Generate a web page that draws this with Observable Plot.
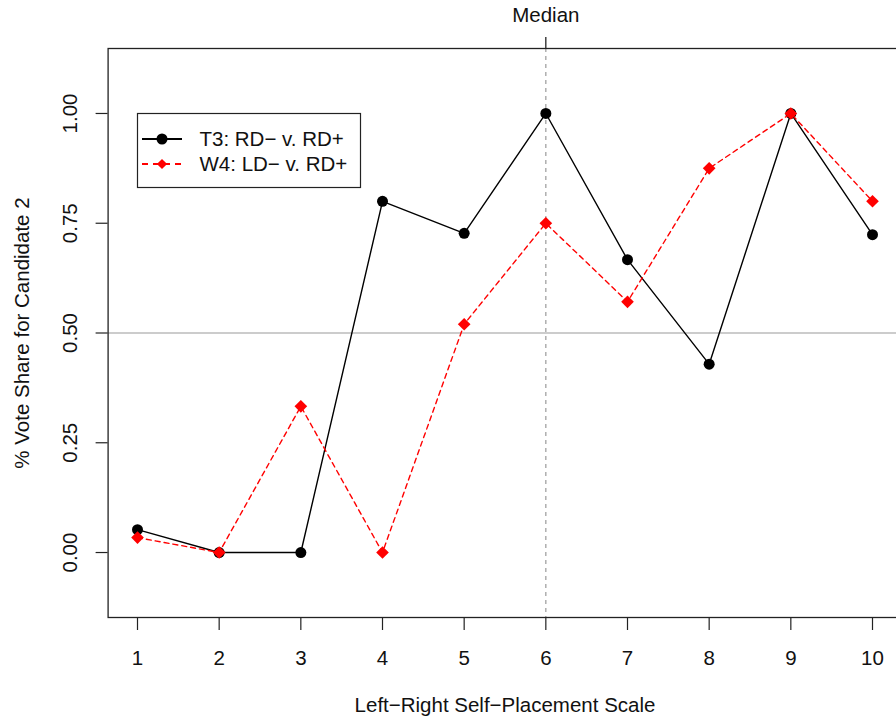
<!DOCTYPE html>
<html>
<head>
<meta charset="utf-8">
<script src="https://cdn.jsdelivr.net/npm/d3@7"></script>
<script src="https://cdn.jsdelivr.net/npm/@observablehq/plot@0.6"></script>
<style>
  html, body { margin: 0; padding: 0; background: #fff; overflow: hidden; width: 896px; height: 723px; }
  #chart { width: 896px; height: 723px; overflow: hidden; }
  #chart svg { display: block; max-width: none !important; width: 920px !important; height: 723px !important; font-family: "Liberation Sans", Arial, Helvetica, sans-serif; }
</style>
</head>
<body>
<div id="chart"></div>
<script>
// ---- data ----
const scalePoints = [1, 2, 3, 4, 5, 6, 7, 8, 9, 10];
const t3Share = [0.052, 0, 0, 0.8, 0.727, 1, 0.667, 0.429, 1, 0.724];
const w4Share = [0.034, 0, 0.333, 0, 0.52, 0.75, 0.571, 0.875, 1, 0.8];
const yTicks = [0, 0.25, 0.5, 0.75, 1];
const xTicks = [1, 2, 3, 4, 5, 6, 7, 8, 9, 10];
const medianX = 6;
const refY = 0.5;
const seriesNames = ["T3: RD\u2212 v. RD+", "W4: LD\u2212 v. RD+"];
const xTitle = "Left\u2212Right Self\u2212Placement Scale";
const yTitle = "% Vote Share for Candidate 2";
const medianLabel = "Median";

const t3 = scalePoints.map((x, i) => ({x, y: t3Share[i]}));
const w4 = scalePoints.map((x, i) => ({x, y: w4Share[i]}));

const FS = 20.5;
const W = 920, H = 723;

const chart = Plot.plot({
  width: W,
  height: H,
  marginLeft: 107.6,
  marginRight: W - 901.4,
  marginTop: 48,
  marginBottom: 106,
  style: {fontSize: FS + "px", fontFamily: "Liberation Sans, Arial, sans-serif", background: "white", overflow: "visible"},
  x: {domain: [0.64, 10.36]},
  y: {domain: [-0.148, 1.148]},
  marks: [
    Plot.ruleY([refY], {stroke: "#9a9a9a", strokeWidth: 1.2}),
    Plot.ruleX([medianX], {stroke: "#9a9a9a", strokeWidth: 1.2, strokeDasharray: "4,4"}),
    // bottom axis
    Plot.axisX({anchor: "bottom", ticks: xTicks, tickSize: 13, tickPadding: 20, tickFormat: d => String(d), label: null, stroke: "#222", strokeWidth: 1.2, fill: "#111"}),
    // top axis: median
    Plot.axisX({anchor: "top", ticks: [medianX], tickSize: 12, tickPadding: 15, tickFormat: () => medianLabel, label: null, stroke: "#111", strokeWidth: 1.2, fill: "#111"}),
    // left axis ticks
    Plot.axisY({anchor: "left", ticks: yTicks, tickSize: 12, tickFormat: () => "", label: null, stroke: "#222", strokeWidth: 1.2}),
    Plot.text(yTicks, {y: d => d, frameAnchor: "left", dx: -37.6, rotate: -90, text: d => d3.format(".2f")(d), textAnchor: "middle", lineAnchor: "middle", fill: "#111"}),
    // axis titles
    Plot.text([xTitle], {frameAnchor: "bottom", dy: 88, text: d => d, lineAnchor: "middle", fill: "#111"}),
    Plot.text([yTitle], {frameAnchor: "left", dx: -85.6, rotate: -90, text: d => d, textAnchor: "middle", lineAnchor: "middle", fill: "#111"}),
    // series
    Plot.line(t3, {x: "x", y: "y", stroke: "black", strokeWidth: 1.4}),
    Plot.dot(t3, {x: "x", y: "y", r: 5.5, fill: "black", stroke: "none"}),
    Plot.line(w4, {x: "x", y: "y", stroke: "#ff0000", strokeWidth: 1.4, strokeDasharray: "5,4"}),
    Plot.dot(w4, {x: "x", y: "y", r: 5.7, symbol: "diamond2", fill: "#ff0000", stroke: "none"}),
    Plot.frame({stroke: "#222", strokeWidth: 1.3})
  ]
});

document.getElementById("chart").appendChild(chart);

// legend (drawn in pixel space inside the plot's svg)
const svg = d3.select(chart);
const lg = svg.append("g").attr("font-size", FS + "px").attr("font-family", "Liberation Sans, Arial, sans-serif").attr("text-anchor", "start");
lg.append("rect").attr("x", 137.5).attr("y", 113.5).attr("width", 223).attr("height", 74)
  .attr("fill", "white").attr("stroke", "#222").attr("stroke-width", 1.2);
const rows = [
  {y: 139, color: "black", dash: null, sym: d3.symbolCircle, size: Math.PI * 5.5 * 5.5},
  {y: 164, color: "#ff0000", dash: "6,5", sym: d3.symbolDiamond2, size: Math.PI * 4.6 * 4.6}
];
rows.forEach((r, i) => {
  lg.append("line").attr("x1", 142).attr("x2", 182).attr("y1", r.y).attr("y2", r.y)
    .attr("stroke", r.color).attr("stroke-width", 1.8).attr("stroke-dasharray", r.dash);
  lg.append("path").attr("d", d3.symbol(r.sym, r.size)()).attr("transform", `translate(162,${r.y})`).attr("fill", r.color);
  lg.append("text").attr("x", 199.5).attr("y", r.y).attr("dy", "0.35em").attr("fill", "#111").attr("text-anchor", "start").text(seriesNames[i]);
});
</script>
</body>
</html>
